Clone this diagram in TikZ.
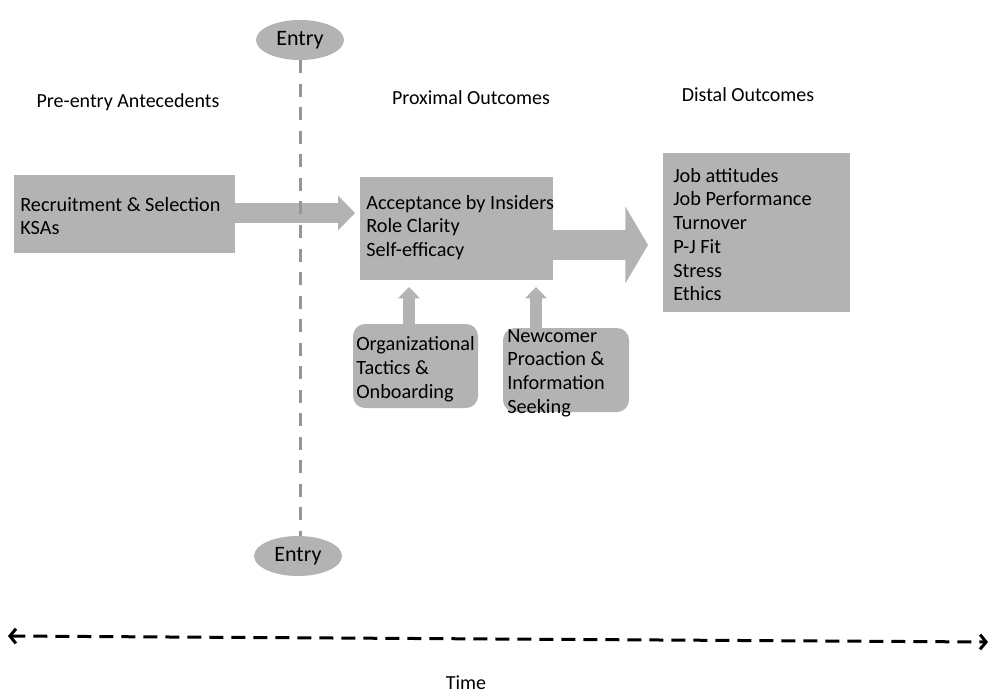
\documentclass[tikz,border=0pt]{standalone}
\usepackage{fontspec}
\setmainfont{Carlito}
\usetikzlibrary{arrows.meta,shapes.geometric,fit,calc}
\definecolor{boxgray}{RGB}{179,179,179}
\definecolor{linegray}{RGB}{150,150,150}
\tikzset{
  box/.style={fill=boxgray, draw=none, inner sep=0pt},
  rbox/.style={box, rounded corners=9pt},
  txt/.style={anchor=west, align=left, inner sep=0pt, font=\fontsize{15.2}{17.8}\selectfont},
  lbl/.style={inner sep=0pt, font=\fontsize{15}{18}\selectfont},
  entry/.style={ellipse, fill=boxgray, draw=none, inner sep=0pt, minimum width=66pt, minimum height=30pt, font=\fontsize{16.5}{18}\selectfont},
  blockarrow/.style={draw=boxgray, line width=15pt, -{Triangle[length=12.75pt,width=25.5pt]}, boxgray},
  bigarrow/.style={draw=boxgray, line width=22.5pt, -{Triangle[length=17pt,width=57pt]}, boxgray},
  uparrow/.style={draw=boxgray, line width=9pt, -{Triangle[length=8.5pt,width=16pt]}, boxgray},
  entryline/.style={draw=linegray, line width=2.25pt, dash pattern=on 9.75pt off 7.9pt},
  timeline/.style={draw=black, line width=2.25pt, dash pattern=on 10.5pt off 6pt, {Straight Barb[length=4.5pt,width=11pt]}-{Straight Barb[length=4.5pt,width=11pt]}}
}
\begin{document}
\begin{tikzpicture}[x=0.75pt,y=-0.75pt]
\useasboundingbox (0,0) rectangle (991,693);
% entry ellipses
\node[entry] (e1) at (300,40) {Entry};
\node[entry] (e2) at (298,556) {Entry};
% headings
\node[lbl] (h1) at (128,102) {Pre-entry Antecedents};
\node[lbl] (h2) at (471,98) {Proximal Outcomes};
\node[lbl] (h3) at (748,95) {Distal Outcomes};
% boxes
\node[box, fit={(14,175) (235,253)}] (rec) {};
\node[txt] (rect) at (20,216) {Recruitment \& Selection\\KSAs};
\node[box, fit={(360,177) (553,280)}] (acc) {};
\node[txt] (acct) at (366,227.5) {Acceptance by Insiders\\Role Clarity\\Self-efficacy};
\node[box, fit={(663,153) (850,312)}] (dis) {};
\node[txt] (dist) at (673,234.5) {Job attitudes\\Job Performance\\Turnover\\P-J Fit\\Stress\\Ethics};
\node[rbox, fit={(353,324) (478,408)}] (org) {};
\node[txt] (orgt) at (356,369) {Organizational\\Tactics \&\\Onboarding};
\node[rbox, fit={(503,328) (629,412)}] (new) {};
\node[txt] (newt) at (507,373) {Newcomer\\Proaction \&\\Information\\Seeking};
% block arrows
\coordinate (a1s) at (rec.east |- 0,213);
\coordinate (a1e) at (355,213);
\draw[blockarrow] (a1s) -- (a1e);
\coordinate (a2s) at (acc.east |- 0,245);
\coordinate (a2e) at (648,245);
\draw[bigarrow] (a2s) -- (a2e);
\coordinate (u1s) at (org.north -| 409,0);
\coordinate (u1e) at (409,287);
\draw[uparrow] (u1s) -- (u1e);
\coordinate (u2s) at (new.north -| 536,0);
\coordinate (u2e) at (536,287);
\draw[uparrow] (u2s) -- (u2e);
% dashed entry line (over the arrow)
\draw[entryline] (e1.south) -- (e1.south |- e2.north);
% time
\coordinate (tl) at (8,636);
\coordinate (tr) at (988,642);
\draw[timeline] (tl) -- (tr);
\node[lbl] (time) at (466,683) {Time};
\end{tikzpicture}
\end{document}
